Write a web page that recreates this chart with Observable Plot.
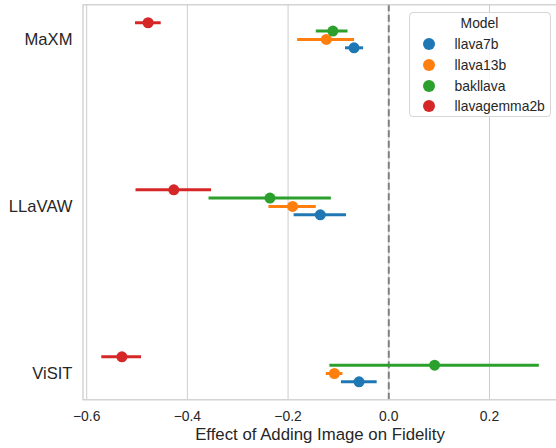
<!DOCTYPE html>
<html>
<head>
<meta charset="utf-8">
<script src="https://cdn.jsdelivr.net/npm/d3@7"></script>
<script src="https://cdn.jsdelivr.net/npm/@observablehq/plot@0.6"></script>
<style>
  body { margin: 0; background: white; font-family: "Liberation Sans", Arial, sans-serif; }
  #wrap { position: relative; width: 556px; height: 448px; overflow: hidden; }
  #caption { position: absolute; left: 82px; width: 476px; top: 424.5px; text-align: center; font-size: 16.8px; line-height: 20px; color: #262626; }
  #legend { position: absolute; left: 408.5px; top: 11.5px; width: 142px; height: 105px; border: 1px solid #d6d6d6; border-radius: 4px; background: rgba(255,255,255,0.85); box-sizing: border-box; }
  #legend .title { position: absolute; left: 0; right: 0; top: 1.5px; text-align: center; font-size: 13.9px; line-height: 18px; color: #262626; }
  #legend .item { position: absolute; left: 0; height: 20px; font-size: 13.9px; line-height: 20px; color: #262626; }
  #legend .sw { position: absolute; left: 13.5px; top: 4px; width: 12px; height: 12px; border-radius: 50%; }
  #legend .lab { position: absolute; left: 45px; top: 0; white-space: nowrap; }
</style>
</head>
<body>
<div id="wrap">
  <div id="chart"></div>
  <div id="caption">Effect of Adding Image on Fidelity</div>
  <div id="legend"></div>
</div>
<script>
const datasets = ["MaXM", "LLaVAW", "ViSIT"];
const models = ["llava7b", "llava13b", "bakllava", "llavagemma2b"];
const colors = ["#1f77b4", "#ff7f0e", "#2ca02c", "#d62728"];
const dodge = [0.05, 0, -0.05, -0.1];
const xTicks = [-0.6, -0.4, -0.2, 0.0, 0.2];

// per model: mean, ci low, ci high for [MaXM, LLaVAW, ViSIT]
const llava7bMean = [-0.069, -0.136, -0.059];
const llava7bLo   = [-0.086, -0.188, -0.094];
const llava7bHi   = [-0.050, -0.084, -0.023];
const llava13bMean = [-0.124, -0.191, -0.108];
const llava13bLo   = [-0.181, -0.238, -0.124];
const llava13bHi   = [-0.068, -0.144, -0.091];
const bakllavaMean = [-0.111, -0.236, 0.091];
const bakllavaLo   = [-0.144, -0.357, -0.117];
const bakllavaHi   = [-0.081, -0.114, 0.299];
const gemmaMean = [-0.478, -0.427, -0.530];
const gemmaLo   = [-0.503, -0.502, -0.570];
const gemmaHi   = [-0.452, -0.352, -0.491];

const series = [
  [llava7bMean, llava7bLo, llava7bHi],
  [llava13bMean, llava13bLo, llava13bHi],
  [bakllavaMean, bakllavaLo, bakllavaHi],
  [gemmaMean, gemmaLo, gemmaHi]
];

const rows = [];
models.forEach((m, mi) => {
  datasets.forEach((d, di) => {
    rows.push({
      model: m, dataset: d,
      pos: di + dodge[mi],
      mean: series[mi][0][di], lo: series[mi][1][di], hi: series[mi][2][di]
    });
  });
});

const chart = Plot.plot({
  width: 556,
  height: 424,
  marginLeft: 82.5,
  marginRight: -2,
  marginTop: 4.3,
  marginBottom: 24.7,
  style: { fontFamily: "Liberation Sans, Arial, sans-serif", background: "white", color: "#262626" },
  x: { domain: [-0.6073, 0.3371] },
  y: { domain: [-0.2075, 2.1575], reverse: true },
  color: { domain: models, range: colors },
  marks: [
    Plot.gridX(xTicks, { stroke: "#cccccc", strokeOpacity: 1, strokeWidth: 1 }),
    Plot.ruleX([0], { stroke: "#808080", strokeWidth: 2, strokeDasharray: "7,3.5" }),
    Plot.ruleY(rows, { y: "pos", x1: "lo", x2: "hi", stroke: "model", strokeWidth: 3 }),
    Plot.dot(rows, { x: "mean", y: "pos", fill: "model", r: 5.5 }),
    Plot.frame({ stroke: "#cccccc", strokeWidth: 1.25 }),
    Plot.axisX(xTicks, { tickSize: 0, tickPadding: 11.5, fontSize: 13.9, label: null, tickFormat: d3.format(".1f") }),
    Plot.axisY([0, 1, 2], { tickSize: 0, tickPadding: 10.5, fontSize: 16.6, label: null, tickFormat: i => datasets[i] })
  ]
});
document.getElementById("chart").appendChild(chart);

const legend = document.getElementById("legend");
const t = document.createElement("div");
t.className = "title"; t.textContent = "Model";
legend.appendChild(t);
models.forEach((m, i) => {
  const it = document.createElement("div");
  it.className = "item";
  it.style.top = (21.8 + i * 20.6) + "px";
  const sw = document.createElement("span");
  sw.className = "sw"; sw.style.background = colors[i];
  const lab = document.createElement("span");
  lab.className = "lab"; lab.textContent = m;
  it.appendChild(sw); it.appendChild(lab);
  legend.appendChild(it);
});
</script>
</body>
</html>
